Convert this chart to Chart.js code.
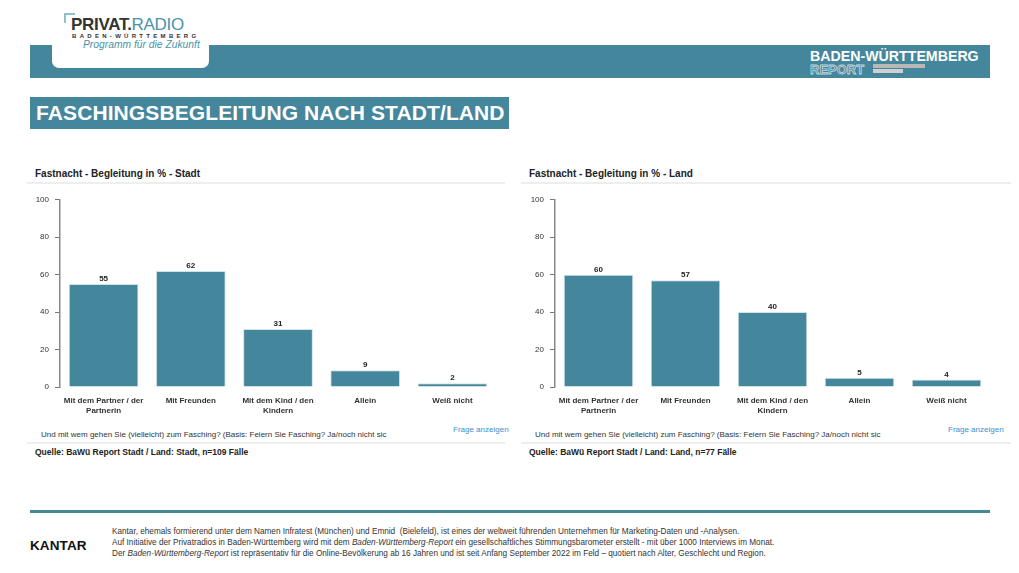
<!DOCTYPE html>
<html>
<head>
<meta charset="utf-8">
<script src="https://cdn.jsdelivr.net/npm/chart.js@4.4.1/dist/chart.umd.min.js"></script>
<style>
  html, body { margin: 0; padding: 0; background: #fff; }
  body { width: 1019px; height: 573px; position: relative; overflow: hidden; font-family: "Liberation Sans", Arial, sans-serif; }
  .abs { position: absolute; }
  .band { left: 30px; top: 45px; width: 960px; height: 33px; background: #44879c; }
  .logo { left: 52px; top: 0; width: 157px; height: 68px; background: #fff; border-radius: 0 0 7px 7px; }
  .title { left: 30px; top: 97px; width: 479px; height: 32px; background: #44879c; color: #fff; font-weight: bold; font-size: 21px; line-height: 32px; padding-left: 6px; box-sizing: border-box; letter-spacing: 0.1px; white-space: nowrap; overflow: hidden; }
  .ptitle { font-size: 10px; font-weight: bold; color: #222; white-space: nowrap; }
  .sep { height: 2px; background: #eeeeee; }
  .question { font-size: 8px; color: #333; white-space: nowrap; }
  .link { font-size: 8px; color: #3a8fd0; white-space: nowrap; }
  .source { font-size: 8.5px; font-weight: bold; color: #222; white-space: nowrap; }
  .foot { left: 112px; top: 526px; font-size: 9px; line-height: 11.2px; color: #333; white-space: nowrap; transform: scaleX(0.91); transform-origin: 0 0; }
</style>
</head>
<body>
<div class="abs band"></div>
<div class="abs logo"></div>
<div class="abs" style="left:64px;top:13px;width:11px;height:2px;background:#8fc0cf"></div>
<div class="abs" style="left:64px;top:13px;width:2px;height:10px;background:#8fc0cf"></div>
<div class="abs" style="left:71px;top:15px;font-size:17px;font-weight:bold;letter-spacing:-0.3px;white-space:nowrap"><span style="color:#333">PRIVAT.</span><span style="color:#4a93aa;font-weight:normal">RADIO</span></div>
<div class="abs" style="left:72px;top:33px;font-size:6px;font-weight:bold;letter-spacing:3.3px;color:#333;white-space:nowrap">BADEN-WÜRTTEMBERG</div>
<div class="abs" style="left:83px;top:39px;font-size:10.3px;font-style:italic;color:#4a93aa;white-space:nowrap">Programm für die Zukunft</div>

<div class="abs" style="left:810px;top:48px;font-size:14.2px;font-weight:bold;color:#fff;white-space:nowrap">BADEN-WÜRTTEMBERG</div>
<div class="abs" style="left:810px;top:62px;font-size:13px;font-weight:bold;color:#44879c;-webkit-text-stroke:0.8px #c8d6db;white-space:nowrap">REPORT</div>
<div class="abs" style="left:873px;top:64px;width:52px;height:4px;background:#b8b8b8"></div>
<div class="abs" style="left:873px;top:69px;width:30px;height:4px;background:#d0d0d0"></div>

<div class="abs title">FASCHINGSBEGLEITUNG NACH STADT/LAND</div>

<!-- left panel -->
<div class="abs ptitle" style="left:35px;top:168px">Fastnacht - Begleitung in % - Stadt</div>
<div class="abs sep" style="left:27px;top:182px;width:478px"></div>
<div class="abs" style="left:27px;top:189px;width:478px;height:231px"><canvas id="chartStadt"></canvas></div>
<div class="abs question" style="left:41px;top:430px">Und mit wem gehen Sie (vielleicht) zum Fasching? (Basis: Feiern Sie Fasching? Ja/noch nicht sic</div>
<div class="abs link" style="left:453px;top:425px">Frage anzeigen</div>
<div class="abs sep" style="left:27px;top:442px;width:478px"></div>
<div class="abs source" style="left:35px;top:447px">Quelle: BaWü Report Stadt / Land: Stadt, n=109 Fälle</div>

<!-- right panel -->
<div class="abs ptitle" style="left:529px;top:168px">Fastnacht - Begleitung in % - Land</div>
<div class="abs sep" style="left:521px;top:182px;width:490px"></div>
<div class="abs" style="left:522px;top:189px;width:490px;height:231px"><canvas id="chartLand"></canvas></div>
<div class="abs question" style="left:535px;top:430px">Und mit wem gehen Sie (vielleicht) zum Fasching? (Basis: Feiern Sie Fasching? Ja/noch nicht sic</div>
<div class="abs link" style="left:948px;top:425px">Frage anzeigen</div>
<div class="abs sep" style="left:521px;top:442px;width:490px"></div>
<div class="abs source" style="left:529px;top:447px">Quelle: BaWü Report Stadt / Land: Land, n=77 Fälle</div>

<!-- footer -->
<div class="abs" style="left:30px;top:510px;width:960px;height:3px;background:#44879c"></div>
<div class="abs" style="left:30px;top:538px;font-size:13.5px;font-weight:bold;color:#111;letter-spacing:0.1px">KANTAR</div>
<div class="abs foot">
Kantar, ehemals formierend unter dem Namen Infratest (München) und Emnid&nbsp; (Bielefeld), ist eines der weltweit führenden Unternehmen für Marketing-Daten und -Analysen.<br>
Auf Initiative der Privatradios in Baden-Württemberg wird mit dem <i>Baden-Württemberg-Report</i> ein gesellschaftliches Stimmungsbarometer erstellt - mit über 1000 Interviews im Monat.<br>
Der <i>Baden-Württemberg-Report</i> ist repräsentativ für die Online-Bevölkerung ab 16 Jahren und ist seit Anfang September 2022 im Feld – quotiert nach Alter, Geschlecht und Region.
</div>

<script>
// categories and values
var categories = [
    ['Mit dem Partner / der', 'Partnerin'],
    'Mit Freunden',
    ['Mit dem Kind / den', 'Kindern'],
    'Allein',
    'Weiß nicht'
];
var stadtValues = [55, 62, 31, 9, 2];
var landValues = [60, 57, 40, 5, 4];
var yTicks = [0, 20, 40, 60, 80, 100];

var barColor = '#44879c';
var textColor = '#333333';

// draws the numbers above the bars
var valueLabels = {
    id: 'valueLabels',
    afterDatasetsDraw: function(chart) {
        var ctx = chart.ctx;
        var meta = chart.getDatasetMeta(0);
        var data = chart.data.datasets[0].data;
        ctx.save();
        ctx.font = 'bold 8px "Liberation Sans", Arial, sans-serif';
        ctx.fillStyle = '#222';
        ctx.textAlign = 'center';
        ctx.textBaseline = 'bottom';
        for (var i = 0; i < meta.data.length; i++) {
            var bar = meta.data[i];
            ctx.fillText(data[i], bar.x, bar.y - 1);
        }
        ctx.restore();
    }
};

function makeChart(id, values, rightPad) {
    var ctx = document.getElementById(id).getContext('2d');
    return new Chart(ctx, {
        type: 'bar',
        data: {
            labels: categories,
            datasets: [{
                data: values,
                backgroundColor: barColor,
                borderColor: '#cfe3ea',
                borderWidth: 1,
                barPercentage: 0.8,
                categoryPercentage: 1
            }]
        },
        options: {
            responsive: true,
            maintainAspectRatio: false,
            animation: false,
            layout: { padding: { top: 5, right: rightPad, left: 0, bottom: 0 } },
            plugins: { legend: { display: false }, tooltip: { enabled: false } },
            scales: {
                x: {
                    grid: { display: false },
                    border: { display: false },
                    ticks: {
                        color: textColor,
                        font: { size: 8, weight: 'bold', family: '"Liberation Sans", Arial, sans-serif' },
                        padding: 1,
                        maxRotation: 0,
                        autoSkip: false
                    },
                    afterFit: function(scale) { scale.height = 33; }
                },
                y: {
                    min: 0,
                    max: 100,
                    z: 1,
                    afterBuildTicks: function(scale) {
                        scale.ticks = yTicks.map(function(v) { return { value: v }; });
                    },
                    grid: {
                        color: function(c) { return (c.tick && c.tick.value === 0) ? 'rgba(0,0,0,0)' : 'rgba(255,255,255,0.25)'; },
                        tickColor: '#777',
                        tickLength: 5,
                        drawTicks: true
                    },
                    border: { color: '#888', width: 1.5 },
                    ticks: {
                        color: textColor,
                        font: { size: 8, family: '"Liberation Sans", Arial, sans-serif' },
                        padding: 6
                    },
                    afterFit: function(scale) { scale.width = 33; }
                }
            }
        },
        plugins: [valueLabels]
    });
}

makeChart('chartStadt', stadtValues, 9);
makeChart('chartLand', landValues, 22);
</script>
</body>
</html>
